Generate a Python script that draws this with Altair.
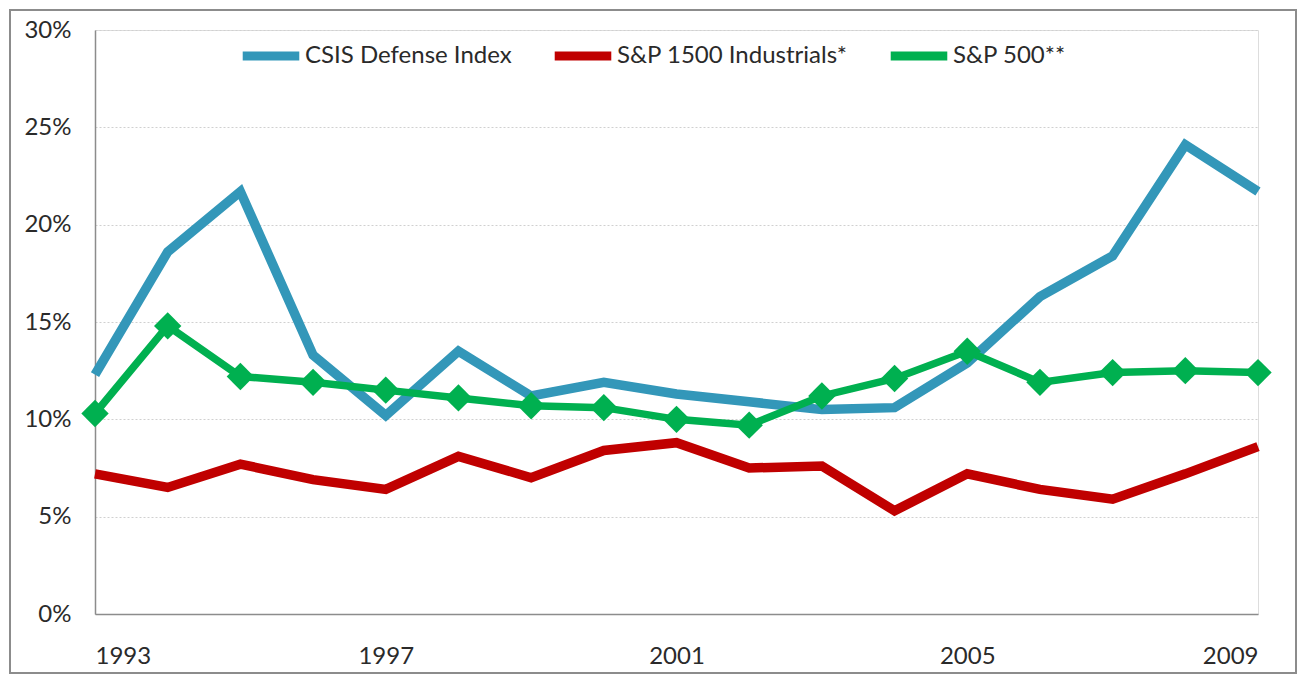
import altair as alt
import pandas as pd

years = list(range(1993, 2010))
series_names = ["CSIS Defense Index", "S&P 1500 Industrials*", "S&P 500**"]
csis = [12.3, 18.6, 21.7, 13.3, 10.2, 13.5, 11.2, 11.9, 11.3, 10.9, 10.5, 10.6, 12.9, 16.3, 18.4, 24.1, 21.7]
sp1500 = [7.2, 6.5, 7.7, 6.9, 6.4, 8.1, 7.0, 8.4, 8.8, 7.5, 7.6, 5.3, 7.2, 6.4, 5.9, 7.2, 8.6]
sp500 = [10.3, 14.8, 12.2, 11.9, 11.5, 11.1, 10.7, 10.6, 10.0, 9.7, 11.2, 12.1, 13.5, 11.9, 12.4, 12.5, 12.4]
colors = ["#3397B9", "#C00000", "#00B050"]
x_ticks = [1993, 1997, 2001, 2005, 2009]
y_ticks = [0, 5, 10, 15, 20, 25, 30]

rows = []
for name, vals in zip(series_names, [csis, sp1500, sp500]):
    for y, v in zip(years, vals):
        rows.append({"Year": y, "Value": v, "Series": name})
df = pd.DataFrame(rows)

FONT = "Lato"
TXT = "#2a2a2a"

x_enc = alt.X("Year:Q", scale=alt.Scale(domain=[1993, 2009], nice=False, zero=False),
              axis=alt.Axis(values=x_ticks, format="d", title=None, grid=False, ticks=False,
                            labelPadding=30, labelFontSize=24, labelColor=TXT,
                            domainColor="#8c8c8c", domainWidth=1.5, labelFont=FONT))
y_enc = alt.Y("Value:Q", scale=alt.Scale(domain=[0, 30], nice=False),
              axis=alt.Axis(values=y_ticks, labelExpr="datum.value + '%'", title=None,
                            ticks=False, labelPadding=24, labelFontSize=24, labelColor=TXT,
                            gridColor="#d0d0d0", gridDash=[2, 2], gridWidth=1,
                            domainColor="#8c8c8c", domainWidth=1.5, labelFont=FONT))
color_enc = alt.Color("Series:N", scale=alt.Scale(domain=series_names, range=colors),
                      legend=alt.Legend(orient="none", legendX=143, legendY=-7, direction="horizontal",
                                        title=None, symbolType="stroke", symbolStrokeWidth=9,
                                        symbolSize=3200, labelFontSize=24, labelFont=FONT,
                                        labelColor=TXT, columnPadding=24, labelOffset=1,
                                        labelLimit=0, symbolOpacity=1))

base = alt.Chart(df)
lines_main = base.transform_filter(alt.datum.Series != "S&P 500**").mark_line(
    strokeWidth=9.5, strokeCap="butt", strokeJoin="miter").encode(
    x=x_enc, y=y_enc, color=color_enc)
line_sp = base.transform_filter(alt.datum.Series == "S&P 500**").mark_line(
    strokeWidth=7.5, strokeJoin="miter").encode(
    x=x_enc, y=y_enc, color=color_enc)
pts_sp = base.transform_filter(alt.datum.Series == "S&P 500**").mark_point(
    shape="diamond", filled=True, size=750, opacity=1).encode(
    x=x_enc, y=y_enc, color=alt.Color("Series:N", scale=alt.Scale(domain=series_names, range=colors), legend=None))

frame = alt.Chart(pd.DataFrame({"k": [0]})).mark_rect(
    fill="transparent", stroke="#8c8c8c", strokeWidth=2).encode(
    x=alt.value(-85), x2=alt.value(1201), y=alt.value(-20), y2=alt.value(643))

chart = alt.layer(frame, lines_main, line_sp, pts_sp).properties(
    width=1163, height=584,
    autosize=alt.AutoSizeParams(type="none"),
    padding={"left": 87, "top": 22, "right": 40, "bottom": 61},
).configure_view(stroke=None).configure(background="white")

chart.save("out.html", embed_options={"renderer": "svg", "actions": False})
